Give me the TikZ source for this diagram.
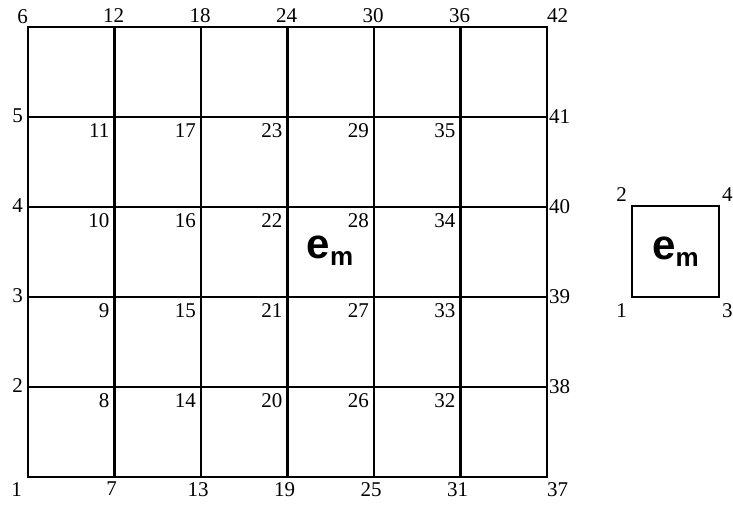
\documentclass[tikz,border=0pt]{standalone}
\usepackage{fontspec}
\setmainfont{Liberation Serif}
\newfontfamily\elemfont{Liberation Sans}
\usepackage{tikz}
\usetikzlibrary{positioning}
\newcommand{\elemname}{e\raisebox{-7pt}{\fontsize{26}{26}\selectfont m}}

\begin{document}
\begin{tikzpicture}[
    x=1pt, y=1pt,
    mesh/.style={line width=2.2pt, line cap=rect},
    num/.style={inner sep=0pt, font=\fontsize{21}{21}\selectfont},
    elem/.style={draw, line width=2pt, minimum width=87pt, minimum height=91pt, inner sep=0pt},
    elemlabel/.style={inner sep=0pt, font=\elemfont\bfseries\fontsize{42}{42}\selectfont}
]
\useasboundingbox (0,0) rectangle (733,508);

% mesh points, numbered column by column
\foreach \i in {0,...,6}
  \foreach \j in {0,...,5} {
    \pgfmathtruncatemacro\pt{6*\i+\j+1}
    \coordinate (n\pt) at (28+86.5*\i, 31+90*\j);
  }

\foreach \i in {0,...,6} {
  \pgfmathtruncatemacro\ptA{6*\i+1}
  \pgfmathtruncatemacro\ptB{6*\i+6}
  \draw[mesh] (n\ptA) -- (n\ptB);
}
\foreach \j in {0,...,5} {
  \pgfmathtruncatemacro\ptA{\j+1}
  \pgfmathtruncatemacro\ptB{\j+37}
  \draw[mesh] (n\ptA) -- (n\ptB);
}

% point numbers
\foreach \i in {1,...,5}
  \foreach \j in {1,...,4} {
    \pgfmathtruncatemacro\pt{6*\i+\j+1}
    \node[num, anchor=north east] (l\pt) at ([shift={(-5,-6)}]n\pt) {\pt};
  }
\foreach \pt in {2,...,5}
  \node[num, anchor=east] (l\pt) at ([shift={(-5,1)}]n\pt) {\pt};
\foreach \pt in {38,...,41}
  \node[num, anchor=west] (l\pt) at ([shift={(2,0)}]n\pt) {\pt};
\foreach \pt in {7,13,19,25,31}
  \node[num, anchor=north] (l\pt) at ([shift={(-3,-5)}]n\pt) {\pt};
\foreach \pt in {12,18,24,30,36}
  \node[num, anchor=south] (l\pt) at ([shift={(-1,4)}]n\pt) {\pt};
\node[num, anchor=north east] (l1) at ([shift={(-6,-5)}]n1) {1};
\node[num, anchor=south east] (l6) at ([shift={(0,3)}]n6) {6};
\node[num, anchor=north west] (l37) at ([shift={(0,-5)}]n37) {37};
\node[num, anchor=south west] (l42) at ([shift={(0,4)}]n42) {42};

\node[elemlabel] (em) at (330,257) {\elemname};

% single element
\node[elem] (elem) at (675.5,256.5) {};
\node[elemlabel] (elemtxt) at (elem.center) {\elemname};
\node[num, anchor=north east] (e1) at ([shift={(-4,-5)}]elem.south west) {1};
\node[num, anchor=south east] (e2) at ([shift={(-4,3)}]elem.north west) {2};
\node[num, anchor=north west] (e3) at ([shift={(2,-5)}]elem.south east) {3};
\node[num, anchor=south west] (e4) at ([shift={(2,3)}]elem.north east) {4};

\end{tikzpicture}
\end{document}
